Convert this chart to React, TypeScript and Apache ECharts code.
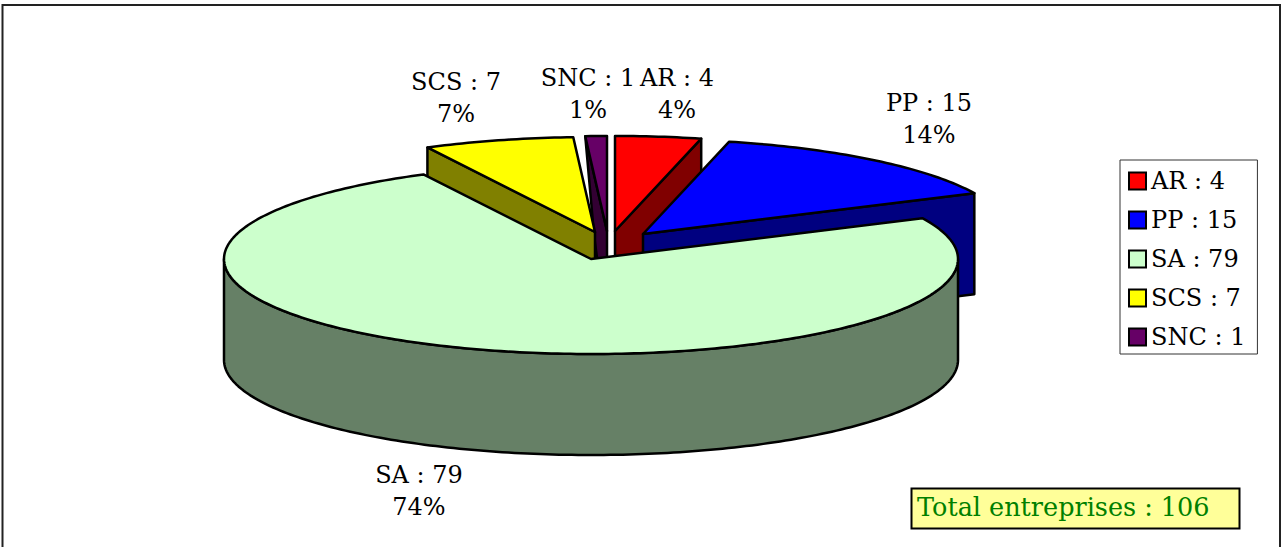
import React, { useEffect, useRef } from "react";
import * as echarts from "echarts";

const categories = ["AR", "PP", "SA", "SCS", "SNC"];
const values = [4, 15, 79, 7, 1];
const percents = [4, 14, 74, 7, 1];
const colors = ["#FF0000", "#0000FF", "#CCFFCC", "#FFFF00", "#660066"];
const totalLabel = "Total entreprises : 106";

const FONT = "'DejaVu Serif', serif";
const CX = 591, CY = 259, RX = 367, RY = 95, DEPTH = 101;
// explode offset of each slice from the pie centre, paint order, and label anchor
const explode = [[24, -28], [52, -25], [0, 0], [4, -27], [16, -28]];
const paintOrder = [2, 3, 6, 5, 4];
const labelAnchor = [[677, 62], [929, 87], [419, 459], [456, 66], [588, 62]];
const wallSkew = [0, 0, 0, 0, 9];

const total = values.reduce((a, b) => a + b, 0);
const legendNames = categories.map((c, i) => `${c} : ${values[i]}`);

function darken(hex: string) {
  const n = parseInt(hex.slice(1), 16);
  const h = (v: number) => Math.round(v / 2).toString(16).padStart(2, "0");
  return "#" + h((n >> 16) & 255) + h((n >> 8) & 255) + h(n & 255);
}

function renderSlice(params: any, api: any) {
  const i = params.seriesIndex;
  const v = api.value(0), before = api.value(1);
  const a0 = (before / total) * 360, a1 = ((before + v) / total) * 360;
  const ox = CX + explode[i][0], oy = CY + explode[i][1];
  const pt = (deg: number, drop = 0) => {
    const r = (deg * Math.PI) / 180;
    return [ox + RX * Math.sin(r), oy - RY * Math.cos(r) + drop];
  };
  const fill = api.visual("color");
  const dark = darken(fill);
  const line = { stroke: "#000", lineWidth: 2.5, lineJoin: "round" };
  const poly = (points: number[][], f: string) => ({
    type: "polygon",
    silent: true,
    shape: { points },
    style: { fill: f, ...line },
  });
  const arc = (from: number, to: number, drop = 0) => {
    const pts: number[][] = [];
    const steps = Math.max(2, Math.ceil(Math.abs(to - from)));
    for (let k = 0; k <= steps; k++) pts.push(pt(from + ((to - from) * k) / steps, drop));
    return pts;
  };
  const children: any[] = [];
  const s0 = pt(a0), s1 = pt(a1);
  const sk = wallSkew[i];
  // a cut face can be seen only when it turns towards the viewer
  if (a1 > 0 && a1 < 180) children.push(poly([[ox, oy], s1, [s1[0], s1[1] + DEPTH], [ox, oy + DEPTH]], dark));
  if (a0 > 180 && a0 < 360) children.push(poly([[ox, oy], s0, [s0[0] + sk, s0[1] + DEPTH], [ox, oy + DEPTH]], dark));
  const w0 = Math.max(a0, 90), w1 = Math.min(a1, 270);
  if (w1 > w0) children.push(poly([...arc(w0, w1), ...arc(w1, w0, DEPTH)], dark));
  children.push(poly([[ox, oy], ...arc(a0, a1)], fill));
  children.push({
    type: "text",
    silent: true,
    x: labelAnchor[i][0],
    y: labelAnchor[i][1],
    style: {
      text: `${categories[i]} : ${v}\n${percents[i]}%`,
      fill: "#000",
      font: `24px ${FONT}`,
      align: "center",
      verticalAlign: "top",
      lineHeight: 32,
    },
  });
  return { type: "group", children };
}

export default function App() {
  const ref = useRef<HTMLDivElement>(null);
  useEffect(() => {
    const chart = echarts.init(ref.current!, undefined, { renderer: "svg" });
    let running = 0;
    const series = categories.map((c, i) => {
      const item = { value: [values[i], running], name: legendNames[i] };
      running += values[i];
      return {
        type: "custom",
        name: legendNames[i],
        coordinateSystem: "none",
        z: paintOrder[i],
        itemStyle: { color: colors[i] },
        renderItem: renderSlice,
        data: [item],
      };
    });
    chart.setOption({
      animation: false,
      backgroundColor: "#fff",
      legend: {
        orient: "vertical",
        left: 1120,
        top: 160,
        padding: [9, 12, 5, 8],
        itemGap: 15,
        itemWidth: 17,
        itemHeight: 17,
        icon: "rect",
        selectedMode: false,
        borderColor: "#333",
        borderWidth: 1,
        backgroundColor: "#fff",
        itemStyle: { borderColor: "#000", borderWidth: 2 },
        textStyle: { color: "#000", fontFamily: "DejaVu Serif", fontSize: 24, padding: [0, 1, 0, 0] },
        data: legendNames,
      },
      graphic: [
        {
          type: "rect",
          silent: true,
          shape: { x: 2.5, y: 5, width: 1277.5, height: 600 },
          style: { fill: "none", stroke: "#222", lineWidth: 2 },
        },
        {
          type: "rect",
          silent: true,
          shape: { x: 911.5, y: 488.5, width: 328, height: 40 },
          style: { fill: "#FFFF99", stroke: "#000", lineWidth: 2 },
        },
        {
          type: "text",
          silent: true,
          x: 917,
          y: 507,
          style: { text: totalLabel, fill: "#008000", font: `25.5px ${FONT}`, verticalAlign: "middle" },
        },
      ],
      series,
    });
    return () => chart.dispose();
  }, []);
  return <div ref={ref} style={{ position: "fixed", left: 0, top: 0, width: 1281, height: 547 }} />;
}
